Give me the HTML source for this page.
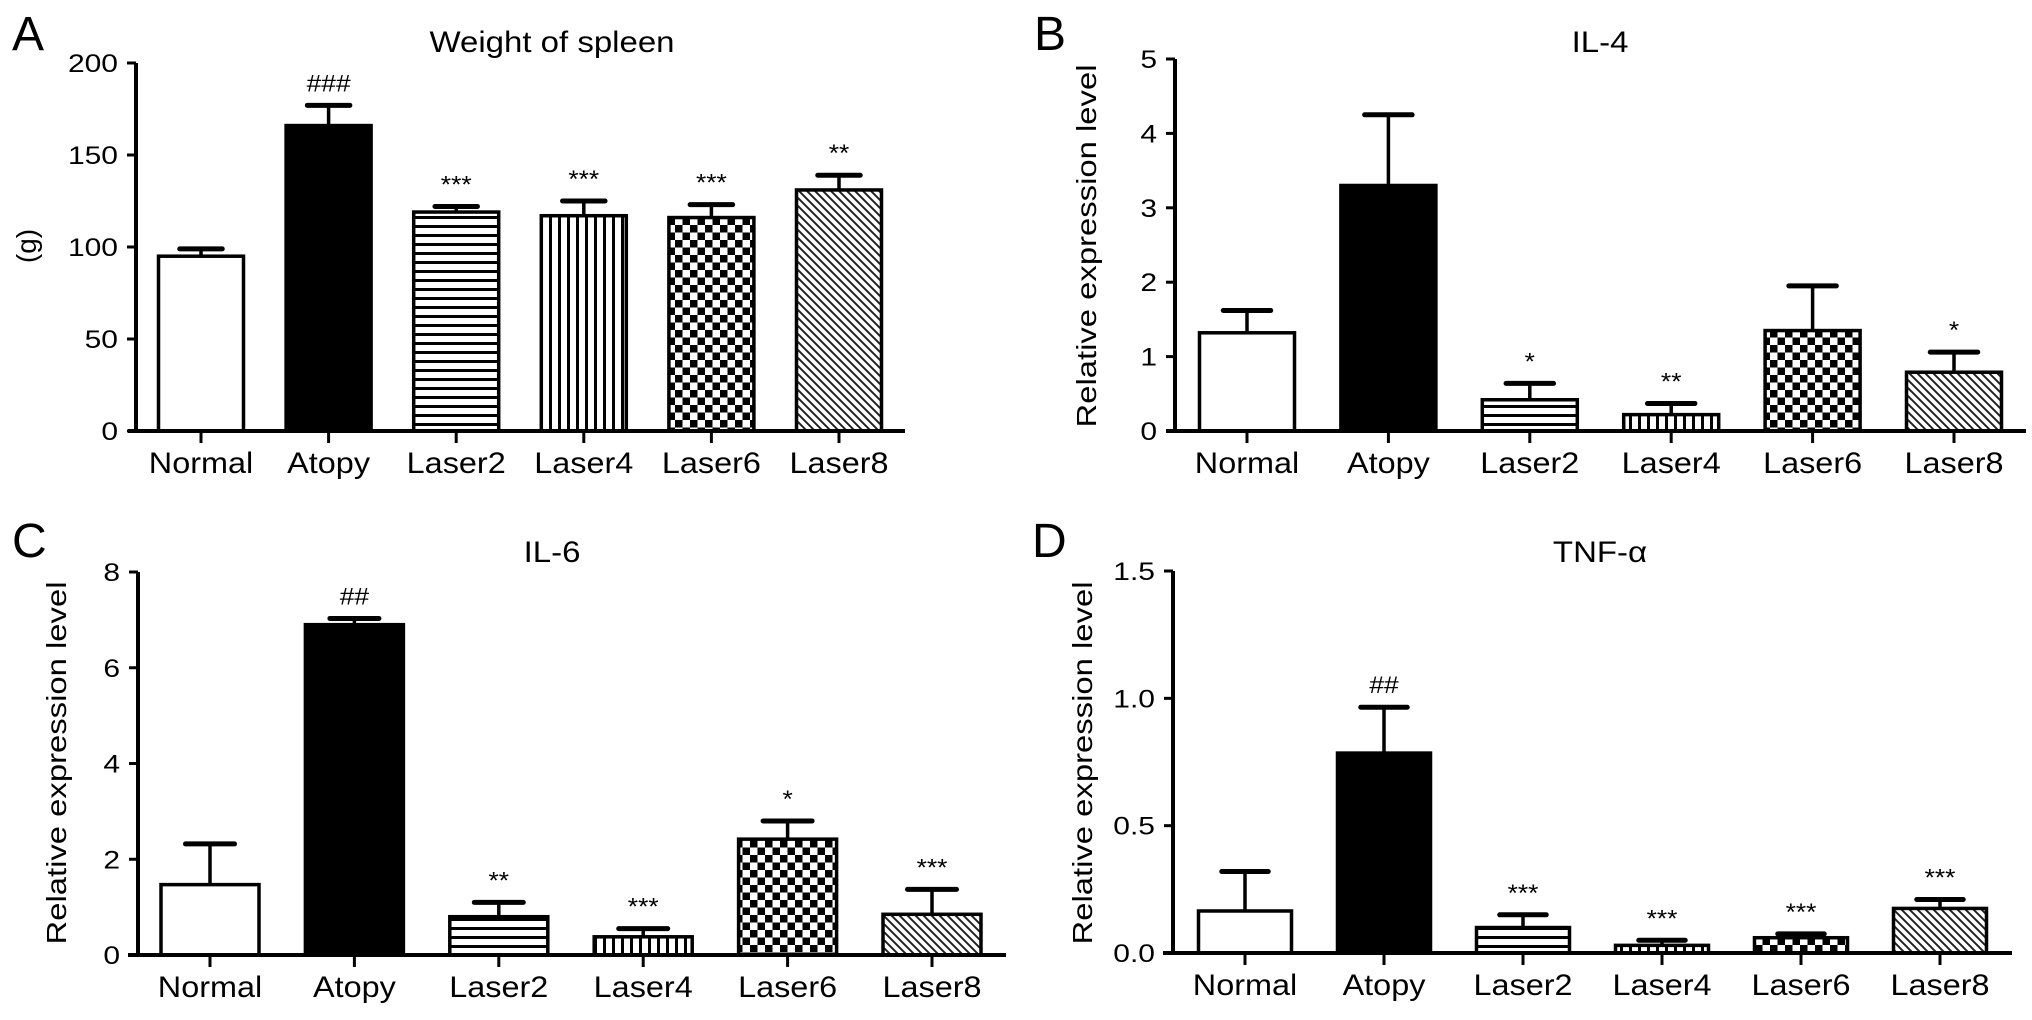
<!DOCTYPE html>
<html><head><meta charset="utf-8"><style>
html,body{margin:0;padding:0;background:#fff;}
svg{display:block;font-family:"Liberation Sans",Arial,sans-serif;}
</style></head><body>
<svg id="fig" width="2032" height="1020" viewBox="0 0 2032 1020" xmlns="http://www.w3.org/2000/svg">
<defs>
<pattern id="pH" width="9" height="9" patternUnits="userSpaceOnUse"><rect width="9" height="9" fill="#fff"/><rect y="0" width="9" height="3" fill="#000"/></pattern>
<pattern id="pV" width="9" height="9" patternUnits="userSpaceOnUse"><rect width="9" height="9" fill="#fff"/><rect x="0" width="3" height="9" fill="#000"/></pattern>
<pattern id="pC" width="15" height="15" patternUnits="userSpaceOnUse"><rect width="15" height="15" fill="#fff"/><rect width="7.5" height="7.5" fill="#000"/><rect x="7.5" y="7.5" width="7.5" height="7.5" fill="#000"/></pattern>
<pattern id="pD" width="8" height="8" patternUnits="userSpaceOnUse"><rect width="8" height="8" fill="#fff"/><path d="M-2,-2 L10,10 M-2,6 L2,10 M6,-2 L10,2" stroke="#222" stroke-width="2"/></pattern>
</defs>
</svg>
<script>
const categories = ["Normal","Atopy","Laser2","Laser4","Laser6","Laser8"];
const fills = ["#fff","#000","url(#pH)","url(#pV)","url(#pC)","url(#pD)"];
const spleenMeans = [95,166,119,117,116,131];
const spleenErr = [4,11,3,8,7,8];
const spleenMarks = ["","###","***","***","***","**"];
const spleenTicks = [0,50,100,150,200];
const il4Means = [1.32,3.3,0.42,0.22,1.35,0.79];
const il4Err = [0.3,0.95,0.22,0.15,0.6,0.27];
const il4Marks = ["","","*","**","","*"];
const il4Ticks = [0,1,2,3,4,5];
const il6Means = [1.47,6.9,0.8,0.38,2.42,0.85];
const il6Err = [0.85,0.13,0.3,0.17,0.38,0.52];
const il6Marks = ["","##","**","***","*","***"];
const il6Ticks = [0,2,4,6,8];
const tnfMeans = [0.165,0.785,0.1,0.03,0.06,0.175];
const tnfErr = [0.155,0.18,0.05,0.02,0.015,0.035];
const tnfMarks = ["","##","***","***","***","***"];
const tnfTicks = ["0.0","0.5","1.0","1.5"];

const svg = document.getElementById('fig');
const NS = "http://www.w3.org/2000/svg";
function mk(tag, attrs, parent){const e=document.createElementNS(NS,tag);for(const k in attrs)e.setAttribute(k,attrs[k]);(parent||svg).appendChild(e);return e;}
function stxt(s, x, y, size, sx, anchor, parent){
  const e=mk('text',{x:0,y:0,'font-size':size,'text-anchor':anchor,fill:'#000',transform:`translate(${x},${y}) scale(${sx},1)`},parent);
  e.textContent=s;return e;
}

function panel(o){
  const g = mk('g',{});
  
  
  const ymax = parseFloat(o.ticks[o.ticks.length-1]);
  const y = v => o.y0 - (v/ymax)*(o.y0-o.yTop);
  const x = i => o.c0 + i*o.step;
  let t = stxt(o.letter,o.lx,o.ly,48,1,'start',g);
  
  
  t = stxt(o.title,o.tx,o.ty,30,1.1,'middle',g);
  
  
  t = mk('text',{x:0,y:0,'font-size':28,'text-anchor':'middle',transform:`translate(${o.ylx},${o.yly}) rotate(-90)`},g);
  t.textContent = o.ylabel;
  if(o.ylen){t.setAttribute('textLength',o.ylen);t.setAttribute('lengthAdjust','spacingAndGlyphs');}
  
  
  o.means.forEach((m,i)=>{
    const cx = x(i), top = y(m), et = y(m+o.err[i]);
    const l = mk('line',{x1:cx,x2:cx,y1:top,y2:et,stroke:'#000','stroke-width':3.5},g);
    
    
    const c = mk('line',{x1:cx-o.bw/4,x2:cx+o.bw/4,y1:et,y2:et,stroke:'#000','stroke-width':5,'stroke-linecap':'round'},g);
    
    
    const r = mk('rect',{x:cx-o.bw/2,y:top,width:o.bw,height:o.y0-top,fill:fills[i],stroke:'#000','stroke-width':3.5},g);
    
    
    if(o.marks[i]){
      const a = stxt(o.marks[i],cx,et-14,o.marks[i][0]=='#'?24:24,1.1,'middle',g);
      
      
    }
    const tk = mk('line',{x1:cx,x2:cx,y1:o.y0,y2:o.y0+12,stroke:'#000','stroke-width':3},g);
    
    
    const lb = stxt(categories[i],cx,o.y0+42,30,1.08,'middle',g);
    
    
  });
  const ya = mk('line',{x1:o.ax,x2:o.ax,y1:o.yTop,y2:o.y0,stroke:'#000','stroke-width':4},g);
  
  
  const xa = mk('line',{x1:o.xa0,x2:o.xa1,y1:o.y0,y2:o.y0,stroke:'#000','stroke-width':4},g);
  
  
  o.ticks.forEach(tv=>{
    const yy = y(parseFloat(tv));
    const tk = mk('line',{x1:o.ax-9,x2:o.ax,y1:yy,y2:yy,stroke:'#000','stroke-width':3},g);
    
    
    const tl = stxt(String(tv),o.ax-18,yy+9,25,1.2,'end',g);
    
    
  });
}
panel({name:'panel-a-spleen-weight',letter:'A',lx:12,ly:50,title:'Weight of spleen',tx:552,ty:52,ylabel:'(g)',ylx:36,yly:246,
  means:spleenMeans,err:spleenErr,marks:spleenMarks,ticks:spleenTicks,ax:136,xa0:128,xa1:905,y0:431,yTop:63,c0:201,step:127.6,bw:85});
panel({name:'panel-b-il4',letter:'B',lx:1034,ly:50,title:'IL-4',tx:1600,ty:52,ylabel:'Relative expression level',ylen:363,ylx:1096,yly:246,
  means:il4Means,err:il4Err,marks:il4Marks,ticks:il4Ticks,ax:1175,xa0:1166,xa1:2026,y0:431,yTop:59,c0:1247,step:141.4,bw:95});
panel({name:'panel-c-il6',letter:'C',lx:12,ly:557,title:'IL-6',tx:552,ty:562,ylabel:'Relative expression level',ylen:363,ylx:66,yly:763,
  means:il6Means,err:il6Err,marks:il6Marks,ticks:il6Ticks,ax:138,xa0:128,xa1:1006,y0:955,yTop:572,c0:210,step:144.4,bw:98});
panel({name:'panel-d-tnf',letter:'D',lx:1032,ly:557,title:'TNF-α',tx:1600,ty:562,ylabel:'Relative expression level',ylen:363,ylx:1092,yly:763,
  means:tnfMeans,err:tnfErr,marks:tnfMarks,ticks:tnfTicks,ax:1173,xa0:1163,xa1:2012,y0:953,yTop:571,c0:1245,step:139,bw:93});
</script>
</body></html>
